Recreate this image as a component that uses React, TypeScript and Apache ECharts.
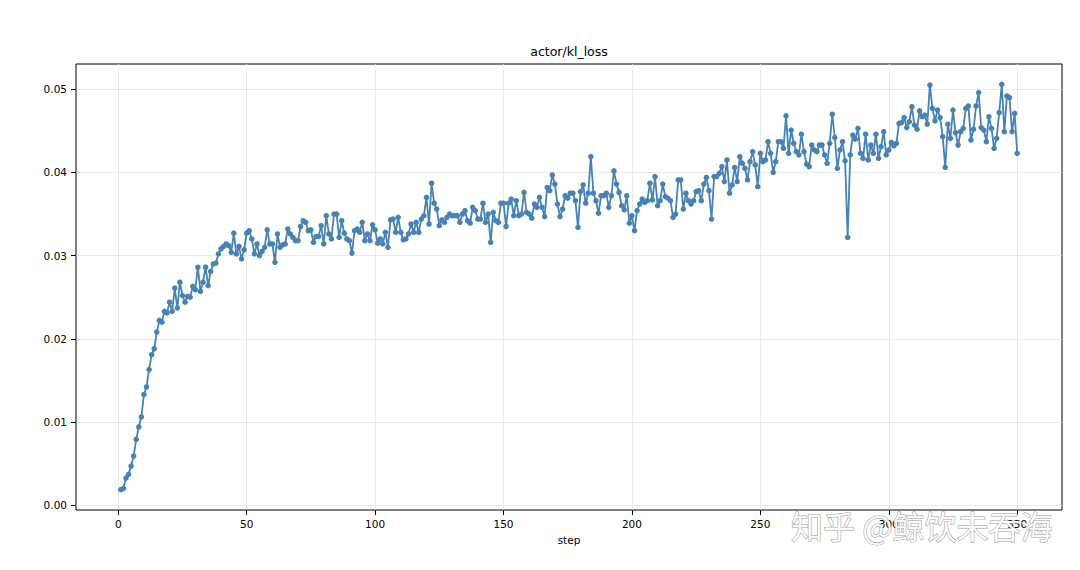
import React, { useEffect, useRef } from "react";
import * as echarts from "echarts";

const klLoss = [
  0.00185, 0.0020, 0.00325, 0.0037, 0.0047, 0.0059, 0.0079, 0.0094, 0.0106, 0.0133,
  0.0142, 0.0163, 0.0181, 0.0188, 0.0208, 0.0222, 0.0220, 0.0233, 0.0231, 0.0244,
  0.0233, 0.0261, 0.0237, 0.0268, 0.0252, 0.0244, 0.0251, 0.0250, 0.0263, 0.0259,
  0.0286, 0.0257, 0.0268, 0.0286, 0.0264, 0.0281, 0.0290, 0.0291, 0.0302, 0.0308,
  0.0311, 0.0314, 0.0312, 0.0304, 0.0327, 0.0302,
  0.0311, 0.0296, 0.0307, 0.0327, 0.0330, 0.0320, 0.0302, 0.0314, 0.0300, 0.0305,
  0.0310, 0.0331, 0.0314, 0.0314, 0.0292, 0.0326, 0.0310, 0.0313, 0.0314, 0.0332,
  0.0326, 0.0322, 0.0318, 0.0318, 0.0335, 0.0342, 0.0340, 0.0330, 0.0331, 0.0316,
  0.0323, 0.0323, 0.0336, 0.0314, 0.0348, 0.0326, 0.0320, 0.0350, 0.0350, 0.0322,
  0.0342, 0.0327, 0.0320, 0.0318, 0.0303, 0.0330, 0.0332,
  0.0328, 0.0340, 0.0318, 0.0326, 0.0318, 0.0337, 0.0331, 0.0315, 0.0320, 0.0314,
  0.0328, 0.0310, 0.0343, 0.0344, 0.0328, 0.0346, 0.0328, 0.0319, 0.0320, 0.0326,
  0.0338, 0.0328, 0.0340, 0.0328, 0.0344, 0.0348, 0.0370, 0.0338, 0.0387, 0.0363,
  0.0356, 0.0336, 0.0343, 0.0340, 0.0346, 0.0350, 0.0348, 0.0348, 0.0348, 0.0340,
  0.0350, 0.0354, 0.0342, 0.0339, 0.0358, 0.0354, 0.0344, 0.0344, 0.0363, 0.0340,
  0.0350, 0.0316, 0.0352, 0.0342, 0.0340, 0.0363, 0.0363, 0.0335, 0.0363, 0.0368,
  0.0348, 0.0366, 0.0348, 0.0350, 0.0376, 0.0352, 0.0350, 0.0345, 0.0362, 0.0358,
  0.0370, 0.0358, 0.0347, 0.0382, 0.0378, 0.0397, 0.0386, 0.0362, 0.0347, 0.0356,
  0.0372, 0.0369, 0.0375, 0.0375, 0.0366, 0.0334, 0.0377, 0.0385, 0.0363, 0.0375,
  0.0419, 0.0375, 0.0366, 0.0351, 0.0372, 0.0372, 0.0375, 0.0358, 0.0372, 0.0402,
  0.0386, 0.0376,
  0.0360, 0.0355, 0.0372, 0.0339, 0.0348, 0.0330, 0.0354, 0.0362, 0.0368, 0.0364,
  0.0366, 0.0387, 0.0367, 0.0395, 0.0360, 0.0366, 0.0386, 0.0371, 0.0369, 0.0366,
  0.0346, 0.0350, 0.0391, 0.0391, 0.0356, 0.0375, 0.0366, 0.0362, 0.0366, 0.0377,
  0.0378, 0.0366, 0.0386, 0.0394, 0.0378, 0.0344, 0.0395, 0.0395, 0.0399, 0.0407,
  0.0389, 0.0415, 0.0375, 0.0385, 0.0406, 0.0389,
  0.0419, 0.0411, 0.0405, 0.0391, 0.0413, 0.0425, 0.0409, 0.0383, 0.0423, 0.0413,
  0.0415, 0.0437, 0.0423, 0.0400, 0.0413, 0.0437, 0.0437, 0.0429, 0.0468, 0.0423,
  0.0451, 0.0435, 0.0425, 0.0421, 0.0446, 0.0425, 0.0410, 0.0407, 0.0433, 0.0427,
  0.0425, 0.0433, 0.0433, 0.0421, 0.0411, 0.0435, 0.0470, 0.0442, 0.0405, 0.0427,
  0.0437, 0.0414, 0.0322, 0.0421, 0.0445, 0.0440, 0.0453, 0.0423, 0.0417, 0.0446,
  0.0415,
  0.0433, 0.0423, 0.0446, 0.0417, 0.0431, 0.0449, 0.0421, 0.0427, 0.0436, 0.0432,
  0.0435, 0.0459, 0.0460, 0.0466, 0.0454, 0.0461, 0.0479, 0.0457, 0.0452, 0.0474,
  0.0467, 0.0469, 0.0458, 0.0505, 0.0477, 0.0462, 0.0475, 0.0466, 0.0443, 0.0406,
  0.0458, 0.0441, 0.0475, 0.0448, 0.0433, 0.0449, 0.0453, 0.0477, 0.0480, 0.0439,
  0.0452, 0.0480, 0.0496, 0.0454, 0.0451, 0.0437, 0.0467, 0.0453, 0.0429, 0.0441,
  0.0472, 0.0506, 0.0449, 0.0492, 0.0490, 0.0449, 0.0471, 0.0423,
];
const steps = klLoss.map((_, i) => i + 1);

const xTicks = [0, 50, 100, 150, 200, 250, 300, 350];
const yTicks = [0, 0.01, 0.02, 0.03, 0.04, 0.05];
const chartTitle = "actor/kl_loss";
const xAxisName = "step";
const watermark = "知乎 @鲸饮未吞海";

const FONT = "'DejaVu Sans', 'Noto Sans', sans-serif";

export default function App() {
  const ref = useRef<HTMLDivElement>(null);
  useEffect(() => {
    document.body.style.margin = "0";
    const chart = echarts.init(ref.current!, null, { renderer: "svg" });
    chart.setOption({
      animation: false,
      backgroundColor: "#ffffff",
      grid: {
        left: 76,
        right: 18,
        top: 64,
        bottom: 60,
        show: true,
        borderColor: "#000000",
        borderWidth: 1,
        backgroundColor: "transparent",
        containLabel: false,
      },
      xAxis: {
        type: "value",
        min: -16.45,
        max: 367.45,
        splitNumber: 8,
        axisLine: { show: false, onZero: false },
        axisTick: {
          show: true,
          length: 5,
          inside: false,
          customValues: xTicks,
          lineStyle: { color: "#000", width: 1 },
        },
        axisLabel: {
          customValues: xTicks,
          color: "#000",
          fontFamily: FONT,
          fontSize: 10.5,
          margin: 8,
          formatter: (v: number) => String(v),
        },
        splitLine: { show: true, lineStyle: { color: "#e4e4e4", width: 0.8 } },
      },
      yAxis: {
        type: "value",
        min: -0.00059,
        max: 0.05304,
        splitNumber: 5,
        axisLine: { show: false, onZero: false },
        axisTick: {
          show: true,
          length: 5,
          inside: false,
          customValues: yTicks,
          lineStyle: { color: "#000", width: 1 },
        },
        axisLabel: {
          customValues: yTicks,
          color: "#000",
          fontFamily: FONT,
          fontSize: 10.5,
          margin: 9,
          formatter: (v: number) => v.toFixed(2),
        },
        splitLine: { show: true, lineStyle: { color: "#e4e4e4", width: 0.8 } },
      },
      series: [
        {
          type: "line",
          data: steps.map((s, i) => [s, klLoss[i]]),
          showSymbol: true,
          symbol: "circle",
          symbolSize: 5.5,
          lineStyle: { color: "#4682b4", width: 1.8 },
          itemStyle: { color: "#4682b4" },
          z: 3,
        },
      ],
      graphic: [
        {
          type: "text",
          x: 569,
          y: 51,
          style: {
            text: chartTitle,
            fill: "#000",
            font: `12.5px ${FONT}`,
            textAlign: "center",
            textVerticalAlign: "middle",
          },
        },
        {
          type: "text",
          x: 569,
          y: 540,
          style: {
            text: xAxisName,
            fill: "#000",
            font: `10.5px ${FONT}`,
            textAlign: "center",
            textVerticalAlign: "middle",
          },
        },
        {
          type: "text",
          x: 791,
          y: 525,
          z: 100,
          style: {
            text: watermark,
            fill: "rgba(255,255,255,0.9)",
            stroke: "rgba(120,120,120,0.75)",
            lineWidth: 1,
            font: `32px 'Noto Sans CJK SC', sans-serif`,
            textAlign: "left",
            textVerticalAlign: "middle",
          },
        },
      ],
    });
    return () => chart.dispose();
  }, []);
  return <div ref={ref} style={{ width: 1080, height: 570 }} />;
}
